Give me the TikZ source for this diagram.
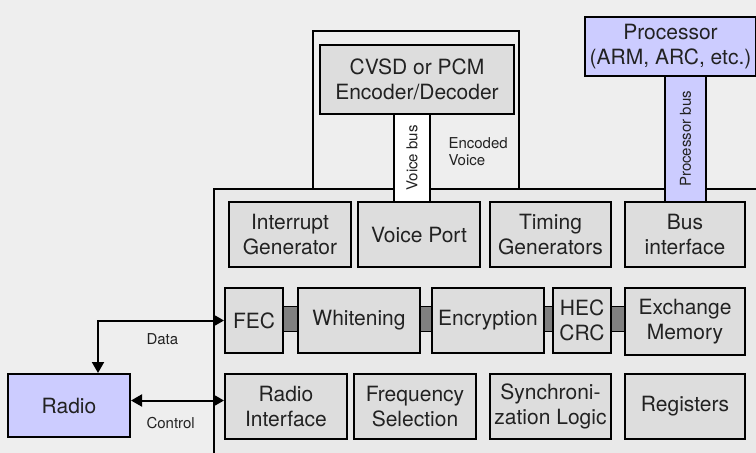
\documentclass[tikz,border=0pt]{standalone}
\usepackage{fontspec}
\setmainfont{TeX Gyre Heros}
\usetikzlibrary{arrows.meta}
\definecolor{bgc}{HTML}{EEEEEE}
\definecolor{inner}{HTML}{E9E9E9}
\definecolor{boxc}{HTML}{DDDDDD}
\definecolor{lav}{HTML}{CCCCFF}
\definecolor{barc}{HTML}{808080}
\definecolor{txt}{HTML}{222222}
\tikzset{
  blk/.style={draw=black, line width=2pt, fill=boxc, text=txt, align=center, inner sep=0pt,
    anchor=north west, font=\fontsize{21}{25}\selectfont},
  lavblk/.style={blk, fill=lav},
  busbar/.style={draw=black, line width=2pt, inner sep=0pt, anchor=north west},
  small/.style={text=txt, font=\fontsize{15}{17}\selectfont},
  gbar/.style={draw=black, line width=1pt, fill=barc},
  thick2/.style={draw=black, line width=2pt},
  arr/.style={draw=black, line width=2pt, {Triangle[length=11pt,width=12pt]}-{Triangle[length=11pt,width=12pt]}}
}
\begin{document}
\begin{tikzpicture}[x=1pt, y=-1pt]
\useasboundingbox (0,0) rectangle (756,453);
\clip (0,0) rectangle (756,453);
\fill[bgc] (0,0) rectangle (756,453);
% main chip box
\fill[inner] (214,189) rectangle (760,460);
\draw[thick2] (214,460) -- (214,189) -- (760,189);
% encoder outer box
\draw[thick2] (313,189) -- (313,31) -- (519,31) -- (519,189);
% buses
\node[busbar, fill=white, minimum width=36pt, minimum height=88pt] (vbus) at (393,113) {};
\node[small, rotate=90] (vbustxt) at (vbus.center) {Voice bus};
\node[busbar, fill=lav, minimum width=41pt, minimum height=126pt] (pbus) at (664,75) {};
\node[small, rotate=90] (pbustxt) at (pbus.center) {Processor bus};
% top blocks
\node[blk, minimum width=194pt, minimum height=69pt] (cvsd) at (319,44) {CVSD or PCM\\Encoder/Decoder};
\node[lavblk, minimum width=171pt, minimum height=59pt] (proc) at (584,16) {Processor\\(ARM, ARC, etc.)};
\node[small, anchor=north west, align=left] (encv) at (445,134) {Encoded\\Voice};
% row 1
\node[blk, minimum width=122pt, minimum height=65pt] (intr) at (228,201) {Interrupt\\Generator};
\node[blk, minimum width=122pt, minimum height=65pt] (vport) at (357,201) {Voice Port};
\node[blk, minimum width=121pt, minimum height=65pt] (timing) at (489,201) {Timing\\Generators};
\node[blk, minimum width=120pt, minimum height=65pt] (busif) at (624,201) {Bus\\interface};
% row 2 connectors
\coordinate (c1a) at (282,306); \coordinate (c1b) at (297,331);
\coordinate (c2a) at (419,306); \coordinate (c2b) at (431,331);
\coordinate (c3a) at (543,306); \coordinate (c3b) at (552,331);
\coordinate (c4a) at (610,306); \coordinate (c4b) at (624,331);
\draw[gbar] (c1a) rectangle (c1b);
\draw[gbar] (c2a) rectangle (c2b);
\draw[gbar] (c3a) rectangle (c3b);
\draw[gbar] (c4a) rectangle (c4b);
% row 2
\node[blk, minimum width=58pt, minimum height=65pt] (fec) at (224,287) {FEC};
\node[blk, minimum width=122pt, minimum height=65pt] (whit) at (297,287) {Whitening};
\node[blk, minimum width=112pt, minimum height=65pt] (encr) at (431,287) {Encryption};
\node[blk, minimum width=58pt, minimum height=65pt] (hec) at (552,287) {HEC\\CRC};
\node[blk, minimum width=120pt, minimum height=67pt] (exch) at (624,287) {Exchange\\Memory};
% row 3
\node[blk, minimum width=122pt, minimum height=65pt] (radint) at (224,373) {Radio\\Interface};
\node[blk, minimum width=122pt, minimum height=65pt] (freq) at (353,373) {Frequency\\Selection};
\node[blk, minimum width=121pt, minimum height=65pt] (sync) at (489,373) {Synchroni-\\zation Logic};
\node[blk, minimum width=120pt, minimum height=65pt] (regs) at (624,373) {Registers};
% radio
\node[lavblk, minimum width=122pt, minimum height=63pt] (radio) at (7,373) {Radio};
% arrows
\draw[arr] (fec.west) -| ([xshift=29pt]radio.north);
\draw[arr] ([yshift=5pt]radio.east) -- ([yshift=5pt]radio.east -| radint.west);
\node[small, anchor=base west] (datalbl) at (143,344) {Data};
\node[small, anchor=base west] (ctrllbl) at (143,428) {Control};
\end{tikzpicture}
\end{document}
